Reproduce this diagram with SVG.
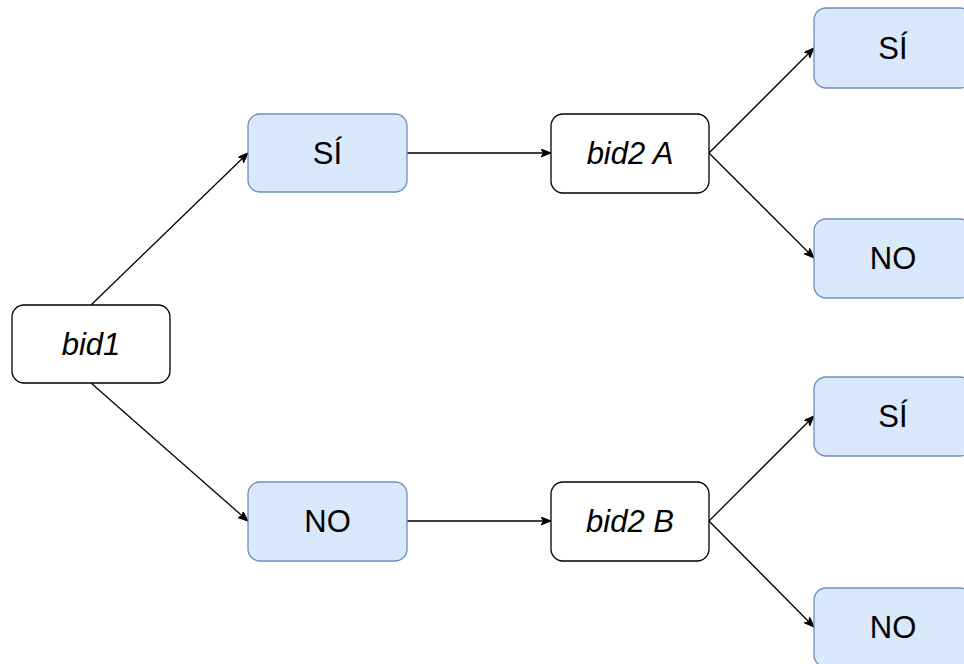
<svg xmlns="http://www.w3.org/2000/svg" width="964" height="664" viewBox="0 0 964 664">
<style>
.w{fill:#ffffff;stroke:#000000;stroke-width:1.3}
.b{fill:#dae8fc;stroke:#6c8ebf;stroke-width:1.3}
.t{font-family:"Liberation Sans",Arial,sans-serif;font-size:31px;fill:#000000;text-anchor:middle}
.i{font-style:italic}
.e{fill:none;stroke:#000000;stroke-width:1.3;marker-end:url(#arr)}
</style>
<defs>
<marker id="arr" markerWidth="12" markerHeight="10" refX="10" refY="4" orient="auto" markerUnits="userSpaceOnUse">
<path d="M0,0 L10,4 L0,8 L2.5,4 Z" fill="#000000" stroke="#000000" stroke-width="1"/>
</marker>
</defs>
<rect width="964" height="664" fill="#ffffff"/>
<g id="connectors">
<path class="e" d="M91,305 L248,153"/>
<path class="e" d="M91,383 L248,521"/>
<path class="e" d="M407,153 L551,153"/>
<path class="e" d="M407,521 L551,521"/>
<path class="e" d="M709,153 L814,48"/>
<path class="e" d="M709,153 L814,258"/>
<path class="e" d="M709,521 L814,416"/>
<path class="e" d="M709,521 L814,627"/>
</g>
<g id="bid1"><rect class="w" x="12" y="305" width="158" height="78" rx="12"/><text class="t i" x="91" y="355">bid1</text></g>
<g id="si1"><rect class="b" x="248" y="114" width="159" height="78" rx="12"/><text class="t" x="327.5" y="164">SÍ</text></g>
<g id="no1"><rect class="b" x="248" y="482" width="159" height="79" rx="12"/><text class="t" x="327.5" y="532">NO</text></g>
<g id="bid2a"><rect class="w" x="551" y="114" width="158" height="79" rx="12"/><text class="t i" x="630" y="164">bid2 A</text></g>
<g id="bid2b"><rect class="w" x="551" y="482" width="158" height="79" rx="12"/><text class="t i" x="630" y="532">bid2 B</text></g>
<g id="siA"><rect class="b" x="814" y="8" width="158" height="80" rx="12"/><text class="t" x="893" y="59">SÍ</text></g>
<g id="noA"><rect class="b" x="814" y="219" width="158" height="79" rx="12"/><text class="t" x="893" y="269">NO</text></g>
<g id="siB"><rect class="b" x="814" y="377" width="158" height="79" rx="12"/><text class="t" x="893" y="427">SÍ</text></g>
<g id="noB"><rect class="b" x="814" y="588" width="158" height="79" rx="12"/><text class="t" x="893" y="638">NO</text></g>
</svg>
